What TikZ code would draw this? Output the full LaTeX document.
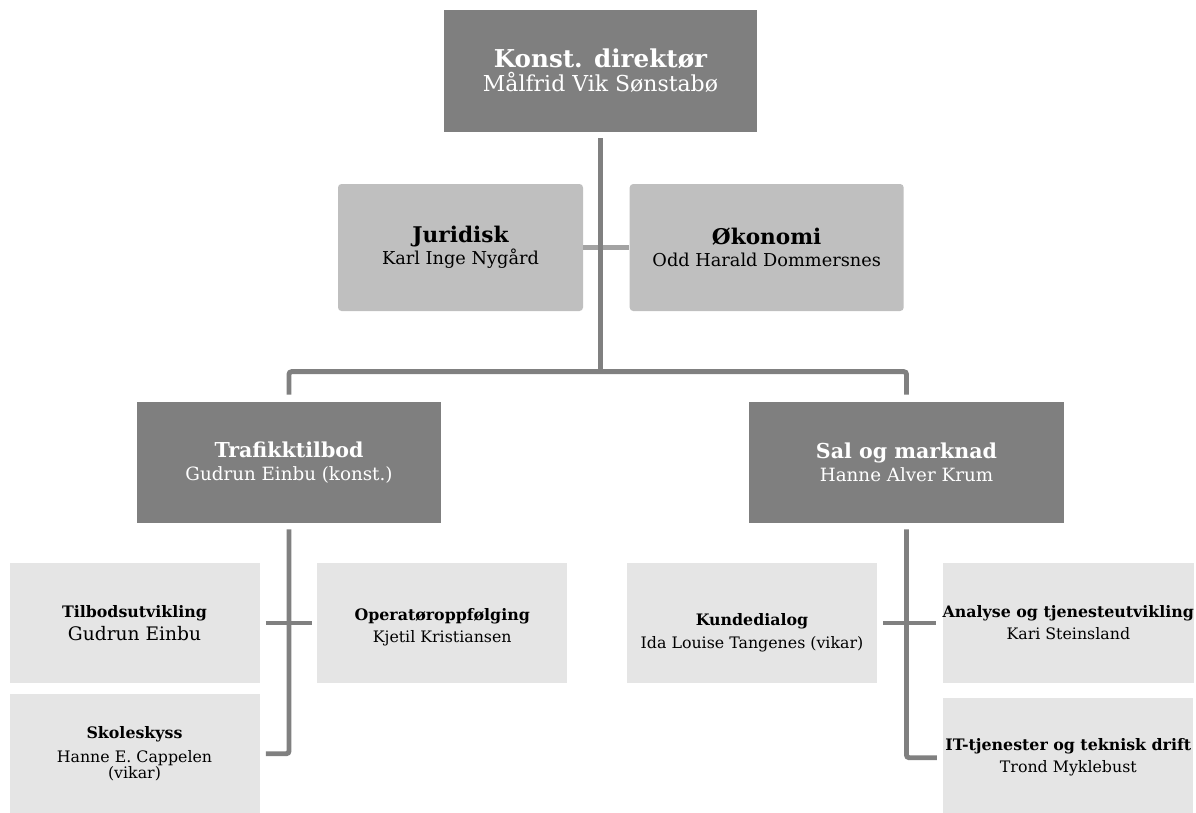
\documentclass[tikz,border=0pt]{standalone}
\usepackage{fontspec}
\setmainfont{DejaVu Serif}
\usepackage{tikz}
\usetikzlibrary{positioning}
\definecolor{darkbox}{RGB}{127,127,127}
\definecolor{midbox}{RGB}{191,191,191}
\definecolor{lightbox}{RGB}{229,229,229}
\definecolor{linegrey}{RGB}{128,128,128}
\definecolor{staffgrey}{RGB}{163,163,163}
\newcommand{\boxtitle}[2]{{\fontsize{#1}{#1}\selectfont\bfseries #2}}

\begin{document}
\begin{tikzpicture}[
    chief/.style={rectangle, fill=darkbox, text=white, minimum width=6.26cm, minimum height=2.44cm, inner sep=0pt, align=center, font=\fontsize{12.5}{13.5}\selectfont},
    staff/.style={rectangle, fill=midbox, rounded corners=2pt, minimum width=4.9cm, minimum height=2.54cm, inner sep=0pt, align=center, font=\fontsize{10.1}{12.5}\selectfont},
    dept/.style={rectangle, fill=darkbox, text=white, minimum width=6.08cm, minimum height=2.42cm, inner sep=0pt, align=center, font=\fontsize{10.4}{13}\selectfont},
    unit/.style={rectangle, fill=lightbox, minimum width=5cm, minimum height=2.4cm, inner sep=0pt, align=center, font=\fontsize{9}{12.5}\selectfont},
    conn/.style={draw=linegrey, line width=2.8pt, rounded corners=1.5pt},
    staffline/.style={draw=staffgrey, line width=2.3pt}
]
\useasboundingbox (0,0) rectangle (23.92,-16.24);

% leiing og stab
\node[chief] (dir) at (12.01,-1.42) {\boxtitle{14}{Konst. direktør}\\Målfrid Vik Sønstabø};
\node[staff] (jur) at (9.21,-4.95) {\boxtitle{12.3}{Juridisk}\\Karl Inge Nygård};
\node[staff, minimum width=5.48cm, right=0.92cm of jur] (oko) {\boxtitle{12.3}{Økonomi}\\Odd Harald Dommersnes};

% avdelingar
\node[dept] (traf) at (5.78,-9.25) {\boxtitle{11.7}{Trafikktilbod}\\Gudrun Einbu (konst.)};
\node[dept, minimum width=6.3cm] (sal) at (18.13,-9.25) {\boxtitle{11.7}{Sal og marknad}\\Hanne Alver Krum};

% seksjonar
\node[unit] (tilb) at (2.69,-12.46) {\boxtitle{9}{Tilbodsutvikling}\\[1pt]{\fontsize{10.6}{12}\selectfont Gudrun Einbu}};
\node[unit, right=1.14cm of tilb] (oper) {\rule{0pt}{12pt}\boxtitle{9}{Operatøroppfølging}\\Kjetil Kristiansen};
\node[unit, below=0.2cm of tilb] (skol) {\boxtitle{9}{Skoleskyss}\\[1pt]Hanne E. Cappelen\\[-3pt](vikar)};
\node[unit] (kund) at (15.04,-12.46) {\rule{0pt}{18pt}\boxtitle{9}{Kundedialog}\\[1pt]Ida Louise Tangenes (vikar)};
\node[unit, right=1.3cm of kund] (anal) {\boxtitle{9}{Analyse og tjenesteutvikling}\\Kari Steinsland};
\node[unit, below=0.28cm of anal] (it) {\boxtitle{9}{IT-tjenester og teknisk drift}\\Trond Myklebust};

\path ([yshift=6mm]traf.north) coordinate (bus);

\draw[staffline] (jur) -- (oko);
\draw[conn] ([yshift=-1.2mm]dir.south) -- (dir.south |- bus);
\draw[conn] ([yshift=1.4mm]traf.north) |- (bus -| sal.north) -- ([yshift=1.4mm]sal.north);
\draw[conn] ([yshift=-1.2mm]traf.south) |- ([xshift=1.2mm]skol.east);
\draw[conn] ([xshift=1.2mm]tilb.east) -- ([xshift=-1mm]oper.west);
\draw[conn] ([yshift=-1.2mm]sal.south) |- ([xshift=-1.2mm]it.west);
\draw[conn] ([xshift=1.2mm]kund.east) -- ([xshift=-1.2mm]anal.west);

\end{tikzpicture}
\end{document}
